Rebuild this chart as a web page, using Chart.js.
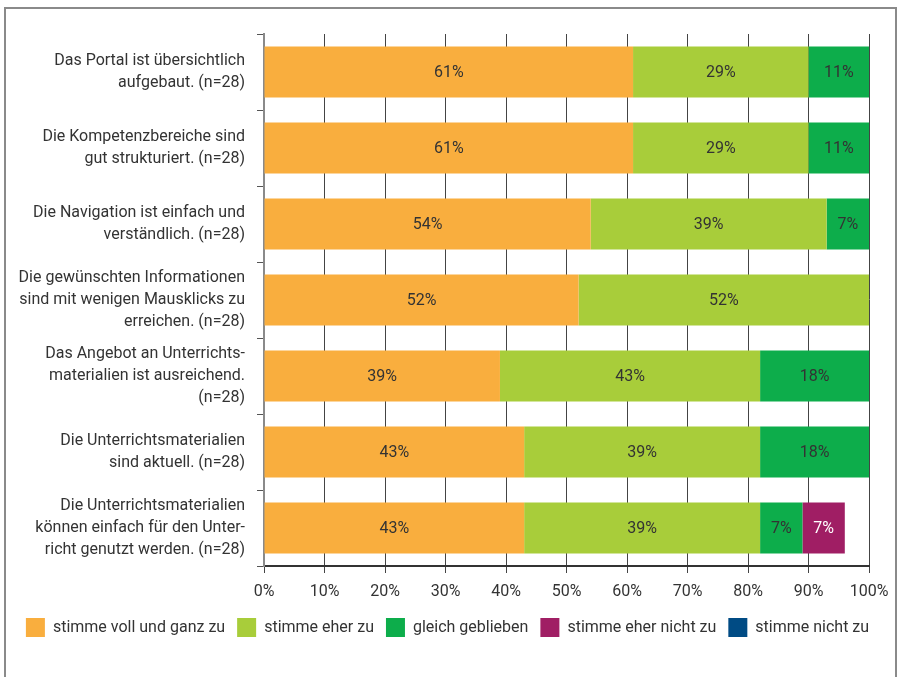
<!DOCTYPE html>
<html lang="de">
<head>
<meta charset="utf-8">
<title>Bewertung des Portals</title>
<script src="https://cdn.jsdelivr.net/npm/chart.js@4/dist/chart.umd.min.js"></script>
<style>
    html, body {
        margin: 0;
        padding: 0;
        background: #ffffff;
    }
    #wrap {
        position: relative;
        width: 900px;
        height: 677px;
        overflow: hidden;
    }
    /* Rahmen oben, links und rechts */
    #rahmen {
        position: absolute;
        left: 4px;
        top: 7px;
        width: 889px;
        height: 700px;
        border: 2px solid #8a8a8a;
        border-bottom: none;
    }
    #chart {
        position: absolute;
        left: 0;
        top: 0;
    }
</style>
</head>
<body>
<div id="wrap">
    <div id="rahmen"></div>
    <canvas id="chart" width="900" height="677"></canvas>
</div>
<script>
// --- Daten ---
const aussagen = [
    ['Das Portal ist übersichtlich', 'aufgebaut. (n=28)'],
    ['Die Kompetenzbereiche sind', 'gut strukturiert. (n=28)'],
    ['Die Navigation ist einfach und', 'verständlich. (n=28)'],
    ['Die gewünschten Informationen', 'sind mit wenigen Mausklicks zu', 'erreichen. (n=28)'],
    ['Das Angebot an Unterrichts-', 'materialien ist ausreichend.', '(n=28)'],
    ['Die Unterrichtsmaterialien', 'sind aktuell. (n=28)'],
    ['Die Unterrichtsmaterialien', 'können einfach für den Unter-', 'richt genutzt werden. (n=28)']
];

const stimmeVoll      = [61, 61, 54, 52, 39, 43, 43];
const stimmeEher      = [29, 29, 39, 52, 43, 39, 39];
const gleichGeblieben = [11, 11, 7, null, 18, 18, 7];
const stimmeEherNicht = [null, null, null, null, null, null, 7];
const stimmeNicht     = [null, null, null, null, null, null, null];

const xTicks = [0, 10, 20, 30, 40, 50, 60, 70, 80, 90, 100];

const schrift = "Roboto, 'Noto Sans', sans-serif";

// Prozentwerte mittig in die Balkensegmente schreiben
const wertBeschriftung = {
    id: 'wertBeschriftung',
    afterDatasetsDraw(chart) {
        const ctx = chart.ctx;
        const area = chart.chartArea;
        ctx.save();
        ctx.font = '16px ' + schrift;
        ctx.textAlign = 'center';
        ctx.textBaseline = 'middle';
        chart.data.datasets.forEach((ds, i) => {
            const meta = chart.getDatasetMeta(i);
            if (meta.hidden) return;
            meta.data.forEach((bar, j) => {
                const v = ds.data[j];
                if (v === null || v === undefined) return;
                // nur den sichtbaren Teil des Segments berücksichtigen
                const links = Math.max(Math.min(bar.base, bar.x), area.left);
                const rechts = Math.min(Math.max(bar.base, bar.x), area.right);
                ctx.fillStyle = ds.textFarbe || '#333333';
                ctx.fillText(v + '%', (links + rechts) / 2, bar.y + 1);
            });
        });
        ctx.restore();
    }
};

const ctx = document.getElementById('chart').getContext('2d');
new Chart(ctx, {
    type: 'bar',
    data: {
        labels: aussagen,
        datasets: [
            { label: 'stimme voll und ganz zu', data: stimmeVoll, backgroundColor: '#f9ae3e' },
            { label: 'stimme eher zu', data: stimmeEher, backgroundColor: '#a8cd3a' },
            { label: 'gleich geblieben', data: gleichGeblieben, backgroundColor: '#0dad4b' },
            { label: 'stimme eher nicht zu', data: stimmeEherNicht, backgroundColor: '#a01e64', textFarbe: '#ffffff' },
            { label: 'stimme nicht zu', data: stimmeNicht, backgroundColor: '#004b84' }
        ]
    },
    options: {
        indexAxis: 'y',
        responsive: false,
        animation: false,
        datasets: {
            bar: {
                barPercentage: 0.67,
                categoryPercentage: 1,
                borderWidth: 0
            }
        },
        layout: {
            padding: { top: 34, right: 18, left: 13, bottom: 30 }
        },
        plugins: {
            legend: {
                position: 'bottom',
                labels: {
                    boxWidth: 19,
                    boxHeight: 19,
                    padding: 12,
                    color: '#333333',
                    font: { size: 16, family: schrift }
                }
            },
            tooltip: { enabled: false }
        },
        scales: {
            x: {
                stacked: true,
                min: 0,
                max: 100,
                afterBuildTicks: (scale) => {
                    scale.ticks = xTicks.map(v => ({ value: v }));
                },
                afterFit: (scale) => {
                    scale.height = 40;
                    scale.paddingLeft = 0;
                    scale.paddingRight = 31;
                },
                ticks: {
                    color: '#333333',
                    padding: 9,
                    maxRotation: 0,
                    font: { size: 16, family: schrift },
                    callback: (v) => v + '%'
                },
                grid: {
                    color: '#444444',
                    lineWidth: 1,
                    tickLength: 7
                },
                border: {
                    color: '#333333',
                    width: 2
                }
            },
            y: {
                stacked: true,
                afterFit: (scale) => {
                    scale.width = 251;
                    scale.paddingTop = 0;
                    scale.paddingBottom = 0;
                },
                ticks: {
                    color: '#333333',
                    padding: 12,
                    font: { size: 16, family: schrift, lineHeight: 1.4 }
                },
                grid: {
                    offset: true,
                    drawOnChartArea: false,
                    color: '#555555',
                    tickLength: 7
                },
                border: {
                    color: '#8a8a8a',
                    width: 2
                }
            }
        }
    },
    plugins: [wertBeschriftung]
});
</script>
</body>
</html>
